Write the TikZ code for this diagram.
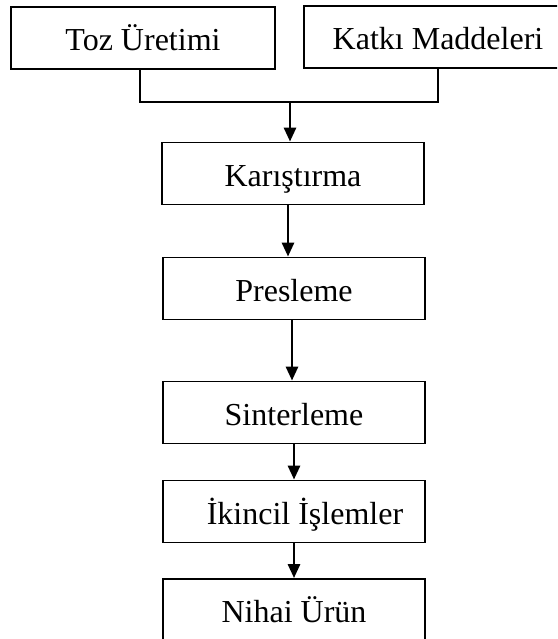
\documentclass[tikz,border=0pt]{standalone}
\usepackage{fontspec}
\setmainfont{Liberation Serif}
\usetikzlibrary{arrows.meta, positioning}

\tikzset{
    stepbox/.style={draw, line width=1.8pt, inner sep=0pt,
        minimum width=262pt, minimum height=62pt,
        text height=29pt, text depth=4pt,
        font=\fontsize{32}{35}\selectfont},
    flow/.style={line width=2.8pt, -{Triangle[width=12pt,length=14pt]}},
    link/.style={line width=2.8pt}
}

\begin{document}
\begin{tikzpicture}[x=1pt, y=-1pt]
    % Frame of the picture
    \useasboundingbox (0,0) rectangle (557,639);
    \clip (0,0) rectangle (557,639);
    % Two input boxes (right one runs off the edge)
    \node[stepbox, minimum width=264pt] (toz) at (143,38) {Toz Üretimi};
    \node[stepbox, minimum width=268pt] (katki) at (438,37) {Katkı Maddeleri};
    % Process chain
    \node[stepbox] (kar)   at (293,173.5) {Karıştırma};
    \node[stepbox] (pres)  at (294,288.5) {Presleme};
    \node[stepbox] (sint)  at (294,412.5) {Sinterleme};
    \node[stepbox] (ikin)  at (294,511.5) {\hspace{22pt}İkincil İşlemler};
    \node[stepbox] (nihai) at (294,610)   {Nihai Ürün};
    % Joining the two inputs
    \coordinate (join) at (290,102);
    \draw[link] ([xshift=-3pt]toz.south) |- (join) -| (katki.south);
    % Arrows
    \draw[flow] (join) -- (kar.north -| join);
    \draw[flow] (kar.south -| 288,0) -- (pres.north -| 288,0);
    \draw[flow] (pres.south -| 292,0) -- (sint.north -| 292,0);
    \draw[flow] (sint) -- (ikin);
    \draw[flow] (ikin) -- (nihai);
\end{tikzpicture}
\end{document}
